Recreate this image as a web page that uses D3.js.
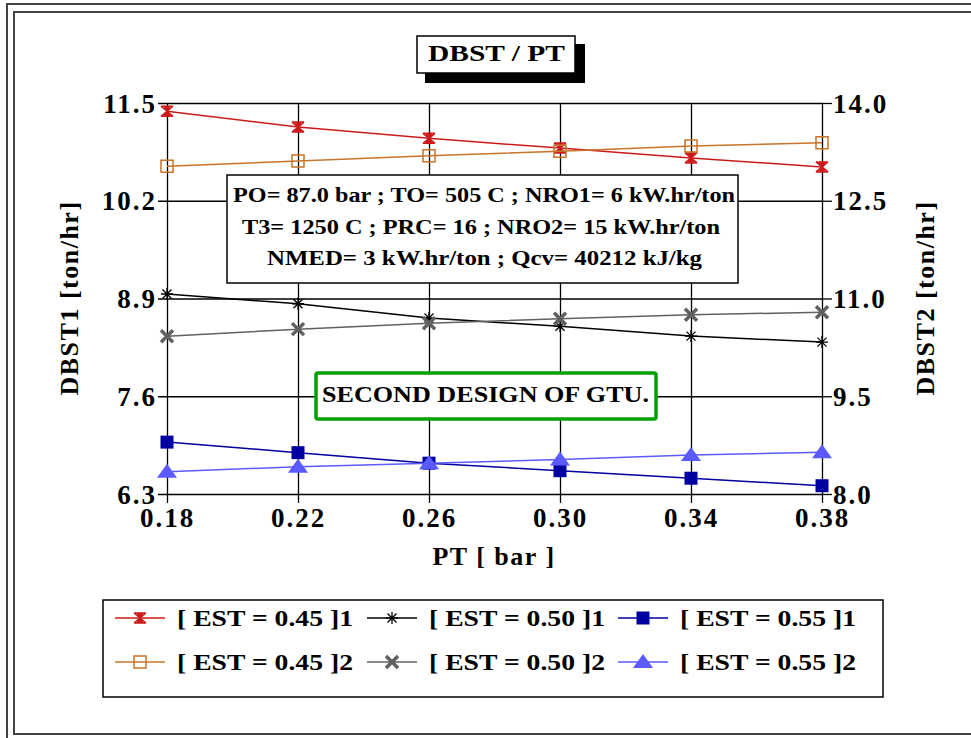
<html>
  <head>
    <title>DBST / PT</title>
    <script src="https://cdnjs.cloudflare.com/ajax/libs/d3/7.8.5/d3.min.js"></script>
    <style>
      body { margin: 0; background: #fff; }
      svg { display: block; font-family: 'Liberation Serif', Tinos, 'Times New Roman', Times, 'Nimbus Roman', FreeSerif, serif; font-weight: bold; }
      .axis path { stroke: none; }
      .axis line { stroke: #000; stroke-width: 1.3; }
      .axis text { font-size: 27px; font-weight: bold; fill: #000; font-family: 'Liberation Serif', Tinos, 'Times New Roman', Times, serif; letter-spacing: 2px; }
    </style>
  </head>
  <body>
    <svg id="chart" width="971" height="738"></svg>
    <script>
      // data
      const pt = [0.18, 0.22, 0.26, 0.30, 0.34, 0.38];
      const est45_1 = [11.39, 11.18, 11.03, 10.90, 10.77, 10.65];
      const est50_1 = [8.96, 8.83, 8.64, 8.53, 8.40, 8.32];
      const est55_1 = [6.99, 6.85, 6.71, 6.61, 6.51, 6.41];
      const est45_2 = [13.03, 13.11, 13.19, 13.26, 13.34, 13.39];
      const est50_2 = [10.42, 10.53, 10.62, 10.69, 10.75, 10.79];
      const est55_2 = [8.34, 8.42, 8.47, 8.53, 8.60, 8.64];

      const leftTicks = [6.3, 7.6, 8.9, 10.2, 11.5];
      const rightTicks = [8.0, 9.5, 11.0, 12.5, 14.0];

      const infoLines = [
        'PO=  87.0 bar ; TO=  505 C ; NRO1=  6 kW.hr/ton',
        'T3= 1250 C ; PRC= 16 ; NRO2= 15 kW.hr/ton',
        'NMED=  3 kW.hr/ton  ;  Qcv=  40212 kJ/kg'
      ];

      const series = [
        {name: '[ EST = 0.45 ]1', values: est45_1, side: 'left', color: '#cc1a1a', marker: 'hourglass'},
        {name: '[ EST = 0.50 ]1', values: est50_1, side: 'left', color: '#000000', marker: 'asterisk'},
        {name: '[ EST = 0.55 ]1', values: est55_1, side: 'left', color: '#0000a0', marker: 'fsquare'},
        {name: '[ EST = 0.45 ]2', values: est45_2, side: 'right', color: '#c8742a', marker: 'square'},
        {name: '[ EST = 0.50 ]2', values: est50_2, side: 'right', color: '#606060', marker: 'cross'},
        {name: '[ EST = 0.55 ]2', values: est55_2, side: 'right', color: '#5a5aff', marker: 'triangle'}
      ];

      const margin = {top: 103, left: 167};
      const width = 655, height = 391;

      const svg = d3.select('#chart');

      // outer frame (double line)
      svg.append('rect').attr('x', 7).attr('y', 4).attr('width', 1000).attr('height', 760)
        .attr('fill', 'none').attr('stroke', '#444').attr('stroke-width', 2);
      svg.append('rect').attr('x', 14).attr('y', 12).attr('width', 1000).attr('height', 722)
        .attr('fill', 'none').attr('stroke', '#444').attr('stroke-width', 2);

      const g = svg.append('g').attr('transform', 'translate(' + margin.left + ',' + margin.top + ')');

      const x = d3.scaleLinear().domain([0.18, 0.38]).range([0, width]);
      const yL = d3.scaleLinear().domain([6.3, 11.5]).range([height, 0]);
      const yR = d3.scaleLinear().domain([8.0, 14.0]).range([height, 0]);

      // axes + grid
      g.append('g').attr('class', 'axis')
        .attr('transform', 'translate(-9,0)')
        .call(d3.axisLeft(yL).tickValues(leftTicks).tickSize(-(width + 9)).tickPadding(1).tickFormat(d3.format('.1f')));

      g.append('g').attr('class', 'axis')
        .attr('transform', 'translate(' + width + ',0)')
        .call(d3.axisRight(yR).tickValues(rightTicks).tickSize(10).tickPadding(1).tickFormat(d3.format('.1f')));

      g.append('g').attr('class', 'axis')
        .attr('transform', 'translate(0,' + (height + 9) + ')')
        .call(d3.axisBottom(x).tickValues(pt).tickSize(-(height + 9)).tickPadding(4).tickFormat(d3.format('.2f')));

      g.selectAll('.axis text').attr('dy', function() {
        return d3.select(this).attr('dy') === '0.71em' ? '0.74em' : '0.34em';
      });

      // marker shapes
      function drawMarker(sel, type, color) {
        if (type === 'hourglass') {
          sel.append('path').attr('d', 'M-6,-5H6M-6,5H6M-6,-5L6,5M6,-5L-6,5M-3,-5L0,-1L3,-5ZM-3,5L0,1L3,5Z')
            .attr('stroke', color).attr('stroke-width', 1.5).attr('fill', color);
        } else if (type === 'square') {
          sel.append('rect').attr('x', -6).attr('y', -6).attr('width', 12).attr('height', 12)
            .attr('fill', 'none').attr('stroke', color).attr('stroke-width', 1.5);
        } else if (type === 'asterisk') {
          sel.append('path').attr('d', 'M-6,0H6M0,-6V6M-4.5,-4.5L4.5,4.5M4.5,-4.5L-4.5,4.5')
            .attr('stroke', color).attr('stroke-width', 1.3);
        } else if (type === 'cross') {
          sel.append('path').attr('d', 'M-6,-6L6,6M6,-6L-6,6')
            .attr('stroke', color).attr('stroke-width', 3.5);
        } else if (type === 'fsquare') {
          sel.append('rect').attr('x', -6.5).attr('y', -6.5).attr('width', 13).attr('height', 13)
            .attr('fill', color);
        } else if (type === 'triangle') {
          sel.append('path').attr('d', 'M0,-8L10,6L-10,6Z').attr('fill', color);
        }
      }

      // lines
      series.forEach(function(s) {
        const y = s.side === 'left' ? yL : yR;
        const pts = pt.map(function(p, i) { return [p, s.values[i]]; });
        const line = d3.line().x(function(d) { return x(d[0]); }).y(function(d) { return y(d[1]); });
        g.append('path').datum(pts).attr('d', line)
          .attr('fill', 'none').attr('stroke', s.color).attr('stroke-width', 1.5);
        pts.forEach(function(d) {
          drawMarker(g.append('g').attr('transform', 'translate(' + x(d[0]) + ',' + y(d[1]) + ')'), s.marker, s.color);
        });
      });

      // info box
      svg.append('rect').attr('x', 227).attr('y', 175).attr('width', 511).attr('height', 108)
        .attr('fill', '#fff').attr('stroke', '#000').attr('stroke-width', 1.5);
      const infoX = [[233, 502], [242, 478], [267, 435]];
      infoLines.forEach(function(t, i) {
        svg.append('text').attr('x', infoX[i][0]).attr('y', 195 + i * 31.5).attr('dy', '0.35em')
          .attr('font-size', 21).attr('textLength', infoX[i][1]).attr('lengthAdjust', 'spacingAndGlyphs')
          .text(t);
      });

      // green label
      svg.append('rect').attr('x', 316).attr('y', 373).attr('width', 340).attr('height', 46)
        .attr('fill', '#fff').attr('stroke', '#00a000').attr('stroke-width', 3.5).attr('rx', 2);
      svg.append('text').attr('x', 322).attr('y', 394).attr('dy', '0.35em')
        .attr('font-size', 24).attr('textLength', 327).attr('lengthAdjust', 'spacingAndGlyphs')
        .text('SECOND DESIGN OF GTU.');

      // title with shadow
      svg.append('rect').attr('x', 425).attr('y', 44).attr('width', 160).attr('height', 39).attr('fill', '#000');
      svg.append('rect').attr('x', 417).attr('y', 36).attr('width', 158).attr('height', 37)
        .attr('fill', '#fff').attr('stroke', '#000').attr('stroke-width', 1.5);
      svg.append('text').attr('x', 428).attr('y', 53).attr('dy', '0.35em')
        .attr('font-size', 24).attr('textLength', 137).attr('lengthAdjust', 'spacingAndGlyphs')
        .text('DBST / PT');

      // axis titles
      svg.append('text').attr('transform', 'translate(78,298) rotate(-90)')
        .attr('text-anchor', 'middle').attr('font-size', 26).attr('letter-spacing', 1.5)
        .text('DBST1 [ton/hr]');
      svg.append('text').attr('transform', 'translate(934,298) rotate(-90)')
        .attr('text-anchor', 'middle').attr('font-size', 26).attr('letter-spacing', 1.5)
        .text('DBST2 [ton/hr]');
      svg.append('text').attr('x', 494).attr('y', 556).attr('dy', '0.35em')
        .attr('text-anchor', 'middle').attr('font-size', 26).attr('letter-spacing', 1.5)
        .text('PT [ bar ]');

      // legend
      svg.append('rect').attr('x', 103).attr('y', 600).attr('width', 780).attr('height', 97)
        .attr('fill', '#fff').attr('stroke', '#000').attr('stroke-width', 1.5);
      const colX = [115, 367, 618];
      const rowY = [618, 662];
      series.forEach(function(s, k) {
        const cx = colX[k % 3], cy = rowY[Math.floor(k / 3)];
        svg.append('line').attr('x1', cx).attr('x2', cx + 50).attr('y1', cy).attr('y2', cy)
          .attr('stroke', s.color).attr('stroke-width', 1.5);
        drawMarker(svg.append('g').attr('transform', 'translate(' + (cx + 25) + ',' + cy + ')'), s.marker, s.color);
        svg.append('text').attr('x', cx + 62).attr('y', cy).attr('dy', '0.35em')
          .attr('font-size', 23).attr('textLength', 176).attr('lengthAdjust', 'spacingAndGlyphs')
          .text(s.name);
      });
    </script>
  </body>
</html>
